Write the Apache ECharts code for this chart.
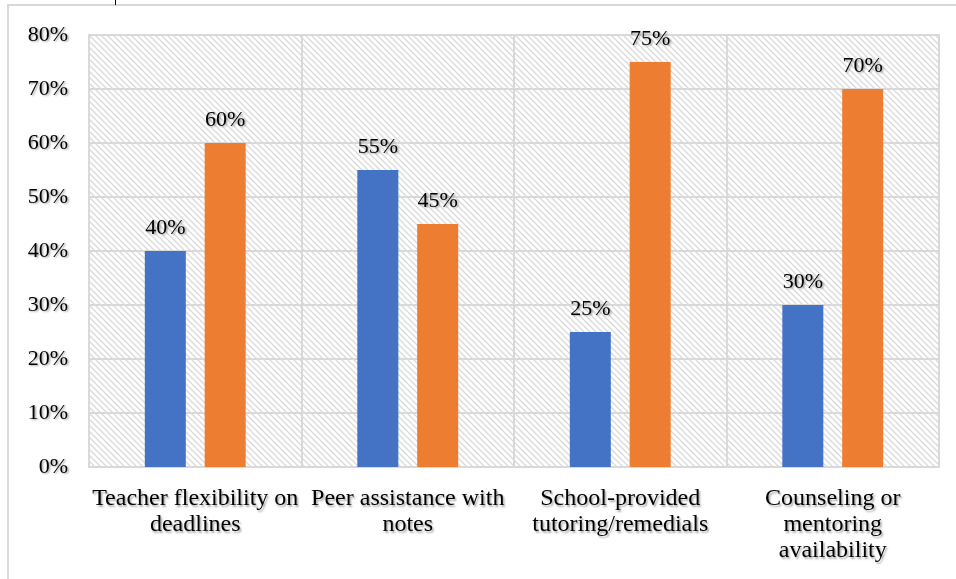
<!DOCTYPE html>
<html>
<head>
<meta charset="utf-8">
<script src="https://cdn.jsdelivr.net/npm/echarts@6/dist/echarts.min.js"></script>
<style>
  html, body { margin: 0; padding: 0; background: #ffffff; }
  #chart { width: 956px; height: 579px; }
</style>
</head>
<body>
<div id="chart"></div>
<script>
// Support measures: categories and the two series shares (percent)
const categories = [
  'Teacher flexibility on\ndeadlines',
  'Peer assistance with\nnotes',
  'School-provided\ntutoring/remedials',
  'Counseling or\nmentoring\navailability'
];
const seriesA = [40, 55, 25, 30];
const seriesB = [60, 45, 75, 70];
const yTicks = [0, 10, 20, 30, 40, 50, 60, 70, 80];

// Diagonal hatch tile for the plot background
function hatchTile() {
  const c = document.createElement('canvas');
  c.width = 6; c.height = 6;
  const g = c.getContext('2d');
  g.fillStyle = '#ffffff';
  g.fillRect(0, 0, 6, 6);
  g.strokeStyle = '#d9d9d9';
  g.lineWidth = 1.3;
  g.beginPath();
  g.moveTo(-1, -1); g.lineTo(7, 7);
  g.moveTo(-7, -1); g.lineTo(1, 7);
  g.moveTo(5, -1); g.lineTo(13, 7);
  g.stroke();
  return c;
}

const font = '"Liberation Serif", "Times New Roman", serif';
const shadow = {
  textShadowColor: 'rgba(0,0,0,0.35)',
  textShadowBlur: 2,
  textShadowOffsetX: 1.5,
  textShadowOffsetY: 1.5
};

const chart = echarts.init(document.getElementById('chart'), null, { renderer: 'canvas' });
chart.setOption({
  animation: false,
  backgroundColor: '#ffffff',
  graphic: [
    { type: 'rect', silent: true, z: -10,
      shape: { x: 8, y: 5, width: 1200, height: 1000 },
      style: { fill: 'none', stroke: '#d9d9d9', lineWidth: 2 } },
    { type: 'line', silent: true,
      shape: { x1: 115.5, y1: 0, x2: 115.5, y2: 5 },
      style: { stroke: '#000', lineWidth: 1 } }
  ],
  grid: {
    left: 89, right: 17, top: 35, bottom: 112,
    show: true,
    backgroundColor: { image: hatchTile(), repeat: 'repeat' },
    borderColor: '#d9d9d9',
    borderWidth: 2
  },
  xAxis: {
    type: 'category',
    data: categories,
    boundaryGap: true,
    axisLine: { show: true, lineStyle: { color: '#d9d9d9', width: 2 } },
    axisTick: { show: false },
    splitLine: { show: true, interval: 0, lineStyle: { color: '#d9d9d9', width: 2 } },
    axisLabel: Object.assign({
      interval: 0,
      margin: 19,
      fontFamily: font,
      fontSize: 24,
      lineHeight: 26,
      color: '#000'
    }, shadow)
  },
  yAxis: {
    type: 'value',
    min: yTicks[0],
    max: yTicks[yTicks.length - 1],
    interval: 10,
    axisLine: { show: false },
    axisTick: { show: false },
    splitLine: { show: true, lineStyle: { color: '#d9d9d9', width: 2 } },
    axisLabel: Object.assign({
      margin: 21,
      fontFamily: font,
      fontSize: 22,
      color: '#000',
      formatter: v => v + '%'
    }, shadow)
  },
  series: [
    {
      type: 'bar',
      data: seriesA,
      barWidth: 41,
      barGap: '46%',
      itemStyle: { color: '#4472C4' },
      label: Object.assign({
        show: true, position: 'top', distance: 12,
        fontFamily: font, fontSize: 22, color: '#000',
        formatter: p => p.value + '%'
      }, shadow)
    },
    {
      type: 'bar',
      data: seriesB,
      barWidth: 41,
      barGap: '46%',
      itemStyle: { color: '#ED7D31' },
      label: Object.assign({
        show: true, position: 'top', distance: 12,
        fontFamily: font, fontSize: 22, color: '#000',
        formatter: p => p.value + '%'
      }, shadow)
    }
  ]
});
</script>
</body>
</html>
